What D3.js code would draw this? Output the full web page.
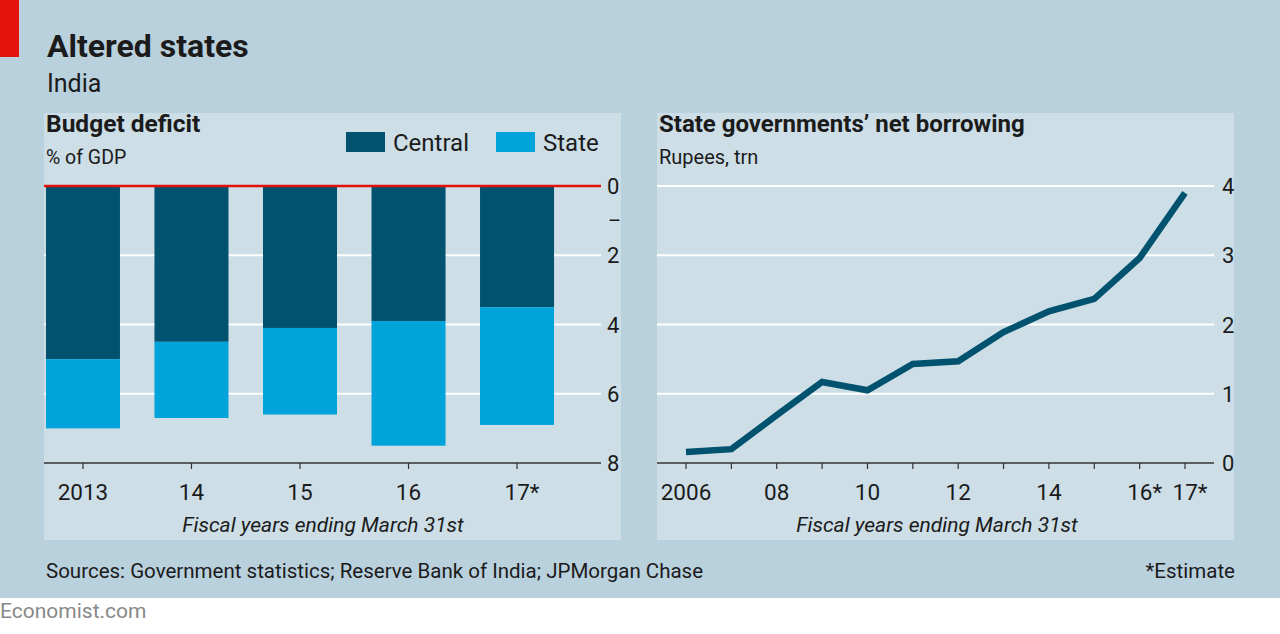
<!DOCTYPE html>
<html><head><meta charset="utf-8">
<script src="https://cdn.jsdelivr.net/npm/d3@7"></script>
<style>
html,body{margin:0;padding:0;background:#fff;}
svg{display:block;font-family:Roboto,"Noto Sans",sans-serif;}
</style></head>
<body>
<svg id="c" width="1280" height="634"></svg>
<script>
// ---- data ----
const deficitYears = ["2013","14","15","16","17*"];
const centralDeficit = [5.0, 4.5, 4.1, 3.9, 3.5];
const stateDeficit = [2.0, 2.2, 2.5, 3.6, 3.4];
const deficitTicks = [0, 2, 4, 6, 8];

const borrowYears = [2006,2007,2008,2009,2010,2011,2012,2013,2014,2015,2016,2017];
const borrowValues = [0.16,0.20,0.69,1.17,1.05,1.43,1.47,1.89,2.19,2.37,2.96,3.90];
const borrowTicks = [0,1,2,3,4];
const borrowLabels = {2006:"2006",2008:"08",2010:"10",2012:"12",2014:"14",2016:"16*",2017:"17*"};

const C_BG="#b9d0dd", C_PANEL="#cddee7", C_DARK="#00526e", C_LIGHT="#00a3da", C_RED="#e3120b", C_TXT="#1b1b1b";

const svg = d3.select("#c");
svg.append("rect").attr("width",1280).attr("height",598).attr("fill",C_BG);
svg.append("rect").attr("x",0).attr("y",0).attr("width",19).attr("height",57).attr("fill",C_RED);

svg.append("text").attr("x",47).attr("y",57).attr("font-size",32).attr("font-weight",700).attr("fill",C_TXT).text("Altered states");
svg.append("text").attr("x",47).attr("y",92).attr("font-size",25).attr("fill",C_TXT).text("India");

// panels
svg.append("rect").attr("x",44).attr("y",113).attr("width",577).attr("height",427).attr("fill",C_PANEL);
svg.append("rect").attr("x",657).attr("y",113).attr("width",577).attr("height",427).attr("fill",C_PANEL);

// ---- left chart ----
const L = svg.append("g");
L.append("text").attr("x",46).attr("y",132).attr("font-size",24.5).attr("font-weight",700).attr("fill",C_TXT).text("Budget deficit");
L.append("text").attr("x",46).attr("y",164).attr("font-size",19.5).attr("fill",C_TXT).text("% of GDP");

const yL = d3.scaleLinear().domain([0,8]).range([186,463]);
const xL = d3.scaleBand().domain(deficitYears).range([44,556]).paddingInner(0.318).paddingOuter(0.018);

// gridlines
L.selectAll("line.g").data(deficitTicks.filter(d=>d>0 && d<8)).enter().append("line")
  .attr("x1",44).attr("x2",601).attr("y1",d=>yL(d)).attr("y2",d=>yL(d))
  .attr("stroke","#fff").attr("stroke-width",2);

const stack = deficitYears.map((y,i)=>({y, c:centralDeficit[i], s:stateDeficit[i]}));
L.selectAll("rect.c").data(stack).enter().append("rect")
  .attr("x",d=>xL(d.y)).attr("width",xL.bandwidth())
  .attr("y",yL(0)).attr("height",d=>yL(d.c)-yL(0)).attr("fill",C_DARK);
L.selectAll("rect.s").data(stack).enter().append("rect")
  .attr("x",d=>xL(d.y)).attr("width",xL.bandwidth())
  .attr("y",d=>yL(d.c)).attr("height",d=>yL(d.c+d.s)-yL(d.c)).attr("fill",C_LIGHT);

// zero line & baseline
L.append("line").attr("x1",44).attr("x2",601).attr("y1",yL(0)).attr("y2",yL(0)).attr("stroke",C_RED).attr("stroke-width",2.5);
L.append("line").attr("x1",44).attr("x2",601).attr("y1",yL(8)).attr("y2",yL(8)).attr("stroke","#333").attr("stroke-width",1.5);

// y labels
L.selectAll("text.yl").data(deficitTicks).enter().append("text")
  .attr("x",607).attr("y",d=>yL(d)+8).attr("font-size",22).attr("fill",C_TXT).text(d=>d);
L.append("text").attr("x",608).attr("y",yL(1)+7).attr("font-size",20).attr("fill",C_TXT).text("–");

// x ticks & labels
L.selectAll("line.xt").data(deficitYears).enter().append("line")
  .attr("x1",d=>xL(d)+xL.bandwidth()/2).attr("x2",d=>xL(d)+xL.bandwidth()/2)
  .attr("y1",yL(8)).attr("y2",yL(8)+6).attr("stroke","#333").attr("stroke-width",1.2);
L.selectAll("text.xl").data(deficitYears).enter().append("text")
  .attr("x",d=>xL(d)+xL.bandwidth()/2 + (d.endsWith("*")?5:0)).attr("y",500)
  .attr("text-anchor","middle").attr("font-size",22.5).attr("fill",C_TXT).text(d=>d);
L.append("text").attr("x",323).attr("y",532).attr("text-anchor","middle").attr("font-size",21)
  .attr("font-style","italic").attr("fill",C_TXT).text("Fiscal years ending March 31st");

// legend
const legend = [["Central",C_DARK,346],["State",C_LIGHT,496]];
legend.forEach(([t,c,x])=>{
  L.append("rect").attr("x",x).attr("y",132).attr("width",39).attr("height",20).attr("fill",c);
  L.append("text").attr("x",x+47).attr("y",151).attr("font-size",24).attr("fill",C_TXT).text(t);
});

// ---- right chart ----
const R = svg.append("g");
R.append("text").attr("x",659).attr("y",132).attr("font-size",24).attr("font-weight",700).attr("fill",C_TXT).text("State governments’ net borrowing");
R.append("text").attr("x",659).attr("y",164).attr("font-size",20).attr("fill",C_TXT).text("Rupees, trn");

const yR = d3.scaleLinear().domain([0,4]).range([463,186]);
const xR = d3.scaleLinear().domain([2006,2017]).range([686,1185]);

R.selectAll("line.g").data(borrowTicks.filter(d=>d>0)).enter().append("line")
  .attr("x1",657).attr("x2",1214).attr("y1",d=>yR(d)).attr("y2",d=>yR(d))
  .attr("stroke","#fff").attr("stroke-width",2);
R.append("line").attr("x1",657).attr("x2",1214).attr("y1",yR(0)).attr("y2",yR(0)).attr("stroke","#333").attr("stroke-width",1.5);

R.selectAll("text.yl").data(borrowTicks).enter().append("text")
  .attr("x",1222).attr("y",d=>yR(d)+8).attr("font-size",22).attr("fill",C_TXT).text(d=>d);

R.selectAll("line.xt").data(borrowYears).enter().append("line")
  .attr("x1",d=>xR(d)).attr("x2",d=>xR(d)).attr("y1",yR(0)).attr("y2",yR(0)+6)
  .attr("stroke","#333").attr("stroke-width",1.2);
R.selectAll("text.xl").data(borrowYears.filter(y=>borrowLabels[y])).enter().append("text")
  .attr("x",d=>xR(d) + (borrowLabels[d].endsWith("*")?5:0)).attr("y",500)
  .attr("text-anchor","middle").attr("font-size",22.5).attr("fill",C_TXT).text(d=>borrowLabels[d]);
R.append("text").attr("x",937).attr("y",532).attr("text-anchor","middle").attr("font-size",21)
  .attr("font-style","italic").attr("fill",C_TXT).text("Fiscal years ending March 31st");

const line = d3.line().x((d,i)=>xR(borrowYears[i])).y(d=>yR(d));
R.append("path").datum(borrowValues).attr("d",line).attr("fill","none")
  .attr("stroke",C_DARK).attr("stroke-width",6.5).attr("stroke-linejoin","miter");

// footer
svg.append("text").attr("x",46).attr("y",578).attr("font-size",20.5).attr("fill",C_TXT)
  .text("Sources: Government statistics; Reserve Bank of India; JPMorgan Chase");
svg.append("text").attr("x",1235).attr("y",578).attr("text-anchor","end").attr("font-size",20.5).attr("fill",C_TXT)
  .text("*Estimate");
svg.append("text").attr("x",0).attr("y",618).attr("font-size",21).attr("fill","#888").text("Economist.com");
</script>
</body></html>
